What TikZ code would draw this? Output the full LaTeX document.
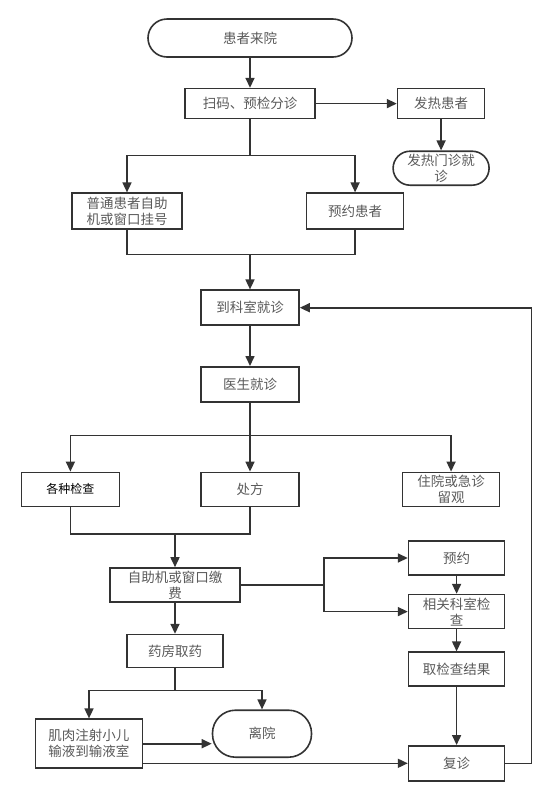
\documentclass[tikz,border=0pt]{standalone}
\usepackage{fontspec}
\usepackage{xcolor}
\usetikzlibrary{arrows.meta, positioning}
\newfontfamily\cjk{Noto Sans CJK SC}
\definecolor{flowLine}{RGB}{51,51,51}
\definecolor{flowText}{RGB}{90,90,90}

\begin{document}
\begin{tikzpicture}[
    x=1pt, y=-1pt,
    box/.style={draw=flowLine, line width=1.6pt, fill=white, minimum width=98pt, minimum height=34pt, inner sep=2pt, align=center, font=\cjk\fontsize{13.5}{16}\selectfont, text=flowText},
    term/.style={box, rounded corners=17pt},
    line/.style={draw=flowLine, line width=1.6pt},
    arrow/.style={line, -{Triangle[length=10pt, width=9pt]}},
    node distance=30pt
]
    \useasboundingbox (0,0) rectangle (554,788);

    \node[term, minimum width=204pt, minimum height=38pt, rounded corners=19pt] (arrive) at (250,38) {患者来院};
    \node[box, below=30pt of arrive, minimum width=130pt, minimum height=30pt] (triage) {扫码、预检分诊};
    \node[box, right=81pt of triage, minimum width=87pt, minimum height=30pt] (fever) {发热患者};
    \node[term, below=31pt of fever, minimum width=96pt] (feverclinic) {发热门诊就\\诊};
    \node[box, below=73pt of triage, xshift=-123pt, minimum width=110pt, minimum height=36pt] (normal) {普通患者自助\\机或窗口挂号};
    \node[box, right=123pt of normal, minimum width=97pt, minimum height=36pt] (booked) {预约患者};
    \node[box, below=170pt of triage, minimum height=35pt] (dept) {到科室就诊};
    \node[box, below=40pt of dept, minimum height=35pt] (doctor) {医生就诊};
    \node[box, below=69pt of doctor] (rx) {处方};
    \node[box, left=80pt of rx, text=black, font=\cjk\fontsize{12}{15}\selectfont] (exams) {各种检查};
    \node[box, right=102pt of rx, minimum width=97pt] (inpat) {住院或急诊\\留观};
    \node[box, below=60pt of rx, xshift=-75pt, minimum width=130pt] (pay) {自助机或窗口缴\\费};
    \node[box, below=31pt of pay, minimum width=96pt, minimum height=33pt] (pharm) {药房取药};
    \node[term, below=41pt of pharm, xshift=87pt, minimum width=99pt, minimum height=47pt, rounded corners=23pt] (leave) {离院};
    \node[box, below=50pt of pharm, xshift=-86pt, minimum width=107pt, minimum height=49pt] (inject) {肌肉注射小儿\\输液到输液室};
    \node[box, right=167pt of pay, yshift=27pt, minimum width=96pt] (appt) {预约};
    \node[box, below=18pt of appt, minimum width=96pt] (check) {相关科室检\\查};
    \node[box, below=22pt of check, minimum width=96pt] (result) {取检查结果};
    \node[box, below=58pt of result, minimum width=96pt, minimum height=35pt] (revisit) {复诊};

    \coordinate[below=36pt of triage] (split);
    \coordinate[above=35pt of dept] (merge);
    \coordinate[below=33pt of doctor] (fan);
    \coordinate[below=27pt of rx] (paymerge);
    \coordinate[below=22pt of pharm] (fork);
    \coordinate[right=83pt of pay] (branch);

    \draw[arrow] (arrive) -- (triage);
    \draw[arrow] (triage) -- (fever);
    \draw[arrow] (fever) -- (feverclinic);
    \draw[line] (triage) -- (split);
    \draw[arrow] (split) -| (normal);
    \draw[arrow] (split) -| (booked);
    \draw[line] (normal) |- (merge) -| (booked);
    \draw[arrow] (merge) -- (dept);
    \draw[arrow] (dept) -- (doctor);
    \draw[arrow] (doctor) -- (rx);
    \draw[arrow] (fan) -| (exams);
    \draw[arrow] (fan) -| (inpat);
    \draw[line] (exams) |- (paymerge) -- (rx);
    \draw[arrow] (pay |- paymerge) -- (pay);
    \draw[arrow] (pay) -- (pharm);
    \draw[line] (pharm) -- (fork);
    \draw[arrow] (fork) -| (inject);
    \draw[arrow] (fork) -| (leave);
    \draw[arrow] (inject.east) -- (inject.east -| leave.west);
    \draw[arrow] (revisit -| inject.east) -- (revisit);
    \draw[line] (pay) -- (branch);
    \draw[arrow] (branch) |- (appt);
    \draw[arrow] (branch) |- (check);
    \draw[arrow] (appt) -- (check);
    \draw[arrow] (check) -- (result);
    \draw[arrow] (result) -- (revisit);
    \draw[arrow] (revisit.east) -- ++(26pt,0) |- (dept);
\end{tikzpicture}
\end{document}
